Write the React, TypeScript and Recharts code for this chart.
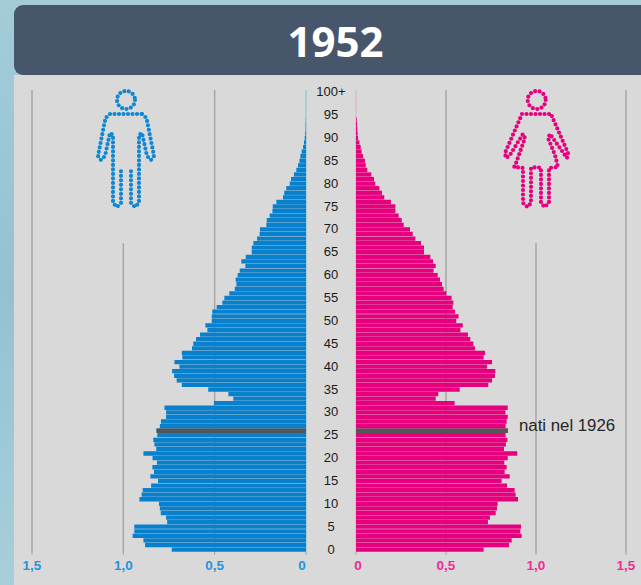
import React from 'react';
import { BarChart, Bar, XAxis, YAxis, ReferenceLine } from 'recharts';

// ages 0..100+, values
const ages: string[] = Array.from({ length: 100 }, (_, i) => String(i)).concat('100+');
const ageTicks = ['0', '5', '10', '15', '20', '25', '30', '35', '40', '45', '50', '55', '60', '65', '70', '75', '80', '85', '90', '95', '100+'];
const valueTicks = [0, 0.5, 1, 1.5];

const males = [
  0.735, 0.881, 0.89, 0.949, 0.94, 0.94, 0.76, 0.766, 0.795, 0.8,
  0.805, 0.912, 0.9, 0.894, 0.848, 0.81, 0.852, 0.832, 0.841, 0.816,
  0.84, 0.89, 0.82, 0.83, 0.836, 0.814, 0.818, 0.8, 0.794, 0.766,
  0.766, 0.775, 0.504, 0.398, 0.425, 0.535, 0.68, 0.708, 0.722, 0.733,
  0.693, 0.72, 0.677, 0.68, 0.624, 0.617, 0.602, 0.58, 0.54, 0.551,
  0.516, 0.516, 0.513, 0.489, 0.458, 0.447, 0.42, 0.39, 0.381, 0.385,
  0.374, 0.363, 0.332, 0.354, 0.33, 0.297, 0.297, 0.288, 0.268, 0.254,
  0.252, 0.217, 0.215, 0.199, 0.184, 0.182, 0.162, 0.126, 0.119, 0.108,
  0.089, 0.082, 0.066, 0.053, 0.044, 0.036, 0.031, 0.024, 0.016, 0.011,
  0.007, 0.004, 0.002, 0.002, 0.001, 0, 0, 0, 0, 0, 0,
];

const females = [
  0.709, 0.85, 0.865, 0.92, 0.913, 0.917, 0.733, 0.744, 0.776, 0.783,
  0.787, 0.9, 0.887, 0.881, 0.839, 0.809, 0.854, 0.826, 0.837, 0.824,
  0.843, 0.896, 0.822, 0.833, 0.841, 0.831, 0.844, 0.831, 0.837, 0.843,
  0.83, 0.843, 0.548, 0.443, 0.457, 0.576, 0.735, 0.756, 0.772, 0.774,
  0.728, 0.756, 0.709, 0.717, 0.661, 0.652, 0.635, 0.622, 0.58, 0.593,
  0.557, 0.57, 0.55, 0.537, 0.541, 0.531, 0.502, 0.487, 0.478, 0.467,
  0.454, 0.431, 0.443, 0.428, 0.413, 0.378, 0.378, 0.361, 0.33, 0.315,
  0.3, 0.265, 0.254, 0.237, 0.219, 0.219, 0.194, 0.157, 0.144, 0.13,
  0.107, 0.1, 0.085, 0.063, 0.054, 0.05, 0.039, 0.031, 0.026, 0.019,
  0.011, 0.009, 0.007, 0.006, 0.004, 0, 0, 0, 0, 0, 0,
];

const cohortAge = '26';
const cohortLabel = 'nati nel 1926';

const maleData = ages.map((age, i) => ({ age, value: males[i] }));
const femaleData = ages.map((age, i) => ({ age, value: females[i] }));

const BLUE = '#0880cc';
const PINK = '#e6007e';
const GRID = '#a6a6a6';
const FONT = '"Liberation Sans", Arial, sans-serif';
const BEHIND_BARS = 100;

// the 1,0 rule stops under the icons, so it runs from an age down to the axis
const RuleToAxis = (props: any) => (
  <line x1={props.x1} x2={props.x2} y1={props.y1} y2={props.y2 + 3} stroke={GRID} strokeWidth={1.5} />
);

const ValueTick = ({ x, y, payload, color, zeroShift }: any) => (
  <text
    x={payload.value === 0 ? x + zeroShift : x}
    y={y + 13}
    textAnchor="middle"
    fill={color}
    fontSize={13.5}
    fontWeight={700}
    fontFamily={FONT}
  >
    {payload.value === 0 ? '0' : payload.value.toFixed(1).replace('.', ',')}
  </text>
);

const Man = () => (
  <svg width={641} height={585} style={{ position: 'absolute', left: 0, top: 0 }}>
    <g fill="none" stroke="#0f88d4" strokeWidth={4.2} strokeLinecap="round" strokeLinejoin="round" strokeDasharray="0 4.5">
      <circle cx={126} cy={100} r={9} />
      <path d="M110 114 L142 114 M110 114 L105.500 118 L98 156 L101 160 L105 156 L110 133 L113 135 L113 203 L117 207 L121 203 L121 168 M142 114 L146.500 118 L154 156 L151 160 L147 156 L142 133 L139 135 L139 203 L135 207 L131 203 L131 168" />
    </g>
  </svg>
);

const Woman = () => (
  <svg width={641} height={585} style={{ position: 'absolute', left: 0, top: 0 }}>
    <g fill="none" stroke={PINK} strokeWidth={4.2} strokeLinecap="round" strokeLinejoin="round" strokeDasharray="0 4.5">
      <circle cx={536.700} cy={100} r={9} />
      <path d="M522 114 L551 114 M522 114 L505 153 L506 158 L510 155 L523 134 L525 138 L515 166 L514 167 L523 168 L523 203 L527.500 207 L531 203 L531 168 L537 167 L541 168 L541 203 L544.500 207 L549 203 L549 168 L558 167 L555 155 L548 138 L550 134 L567 158 L568 153 L551 114" />
    </g>
  </svg>
);

export default function App() {
  return (
    <div
      style={{
        position: 'absolute',
        left: 0,
        top: 0,
        width: 641,
        height: 585,
        overflow: 'hidden',
        background: 'linear-gradient(180deg, #a3ccd8 0%, #94c2d2 50%, #a7cfda 100%)',
      }}
    >
      <div style={{ position: 'absolute', left: 14, top: 75, width: 627, height: 510, background: '#d9d9d9' }} />
      <div
        style={{
          position: 'absolute',
          left: 14,
          top: 5,
          width: 640,
          height: 70,
          borderRadius: 9,
          background: '#47566b',
        }}
      />
      <div
        style={{
          position: 'absolute',
          left: 14,
          top: 5,
          width: 643,
          height: 70,
          lineHeight: '72px',
          textAlign: 'center',
          color: '#fff',
          fontFamily: '"Open Sans", sans-serif',
          fontWeight: 700,
          fontSize: 42,
        }}
      >
        1952
      </div>

      <div style={{ position: 'absolute', left: 0, top: 0 }}>
        <BarChart
          width={356}
          height={585}
          data={maleData}
          layout="vertical"
          margin={{ top: 90, right: 0, bottom: 0, left: 32 }}
          barSize={4.3}
        >
          <XAxis
            type="number"
            domain={[0, 1.5]}
            reversed
            ticks={valueTicks}
            height={33}
            axisLine={false}
            tickSize={3}
            tickLine={{ stroke: GRID }}
            interval={0}
            tick={<ValueTick color="#2494dc" zeroShift={-4} />}
          />
          <YAxis
            type="category"
            dataKey="age"
            reversed
            orientation="right"
            width={50}
            ticks={ageTicks}
            interval={0}
            axisLine={false}
            tickLine={false}
            tickSize={0}
            tickMargin={25}
            tick={{ textAnchor: 'middle', fontSize: 13, dy: -0.7, fill: '#1a1a1a', fontFamily: FONT }}
          />
          <ReferenceLine x={1.5} stroke={GRID} strokeWidth={1.5} zIndex={BEHIND_BARS} />
          <ReferenceLine x={0.5} stroke={GRID} strokeWidth={1.5} zIndex={BEHIND_BARS} />
          <ReferenceLine segment={[{ x: 1, y: '67' }, { x: 1, y: '0' }]} shape={RuleToAxis} zIndex={BEHIND_BARS} />
          <ReferenceLine x={0} stroke="#9cc8dc" strokeWidth={1.5} zIndex={BEHIND_BARS} />
          <Bar dataKey="value" fill={BLUE} isAnimationActive={false} />
          <ReferenceLine
            segment={[{ x: 0, y: cohortAge }, { x: males[26], y: cohortAge }]}
            stroke="#555555"
            strokeWidth={4.5}
          />
        </BarChart>
      </div>

      <div style={{ position: 'absolute', left: 336, top: 0 }}>
        <BarChart
          width={305}
          height={585}
          data={femaleData}
          layout="vertical"
          margin={{ top: 90, right: 15, bottom: 0, left: 20 }}
          barSize={4.3}
        >
          <XAxis
            type="number"
            domain={[0, 1.5]}
            ticks={valueTicks}
            height={33}
            axisLine={false}
            tickSize={3}
            tickLine={{ stroke: GRID }}
            interval={0}
            tick={<ValueTick color="#ee2b9a" zeroShift={2} />}
          />
          <YAxis type="category" dataKey="age" reversed hide ticks={ageTicks} />
          <ReferenceLine x={1.5} stroke={GRID} strokeWidth={1.5} zIndex={BEHIND_BARS} />
          <ReferenceLine x={0.5} stroke={GRID} strokeWidth={1.5} zIndex={BEHIND_BARS} />
          <ReferenceLine segment={[{ x: 1, y: '67' }, { x: 1, y: '0' }]} shape={RuleToAxis} zIndex={BEHIND_BARS} />
          <ReferenceLine x={0} stroke="#dcb8d0" strokeWidth={1.5} zIndex={BEHIND_BARS} />
          <Bar dataKey="value" fill={PINK} isAnimationActive={false} />
          <ReferenceLine
            segment={[{ x: 0, y: cohortAge }, { x: females[26], y: cohortAge }]}
            stroke="#555555"
            strokeWidth={4.5}
          />
        </BarChart>
      </div>

      <Man />
      <Woman />

      <div
        style={{
          position: 'absolute',
          left: 519,
          top: 416,
          lineHeight: '20px',
          fontFamily: FONT,
          fontSize: 16.8,
          color: '#262626',
          whiteSpace: 'nowrap',
        }}
      >
        {cohortLabel}
      </div>
    </div>
  );
}
